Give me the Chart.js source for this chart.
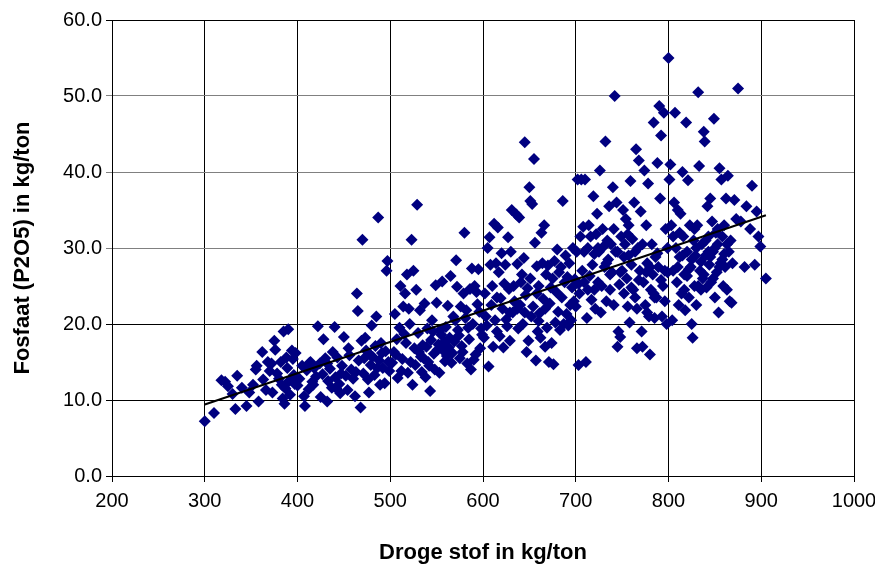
<!DOCTYPE html>
<html>
<head>
<meta charset="utf-8">
<script src="https://cdn.jsdelivr.net/npm/chart.js@4.4.1/dist/chart.umd.min.js"></script>
<style>
  body { margin: 0; background: #fff; }
  #wrap { width: 875px; height: 569px; }
</style>
</head>
<body>
<div id="wrap"><canvas id="scatter-chart" width="875" height="569"></canvas></div>
<script>
// droge stof (kg/ton) per monster
const drogeStof = [
  300, 310, 318, 322, 325, 330, 333, 335, 340, 345, 348, 352, 355, 356, 358, 362, 363, 366, 368, 370,
  372, 373, 375, 376, 378, 380, 382, 384, 385, 386, 388, 389, 390, 392, 394, 396, 398, 400, 383, 387,
  391, 395, 397,
  402, 405, 407, 408, 410, 412, 414, 416, 418, 420, 422, 424, 425, 427, 428, 430, 432, 433, 435, 437,
  440, 441, 443, 445, 446, 448, 450, 452, 454, 456, 458, 460, 462, 464, 465, 466, 468, 469, 470, 471,
  473, 474, 476, 477, 479, 480, 481, 483, 485, 487, 488, 489, 490, 492, 494, 495, 496, 497, 498, 499,
  455, 442, 438, 432, 417, 413, 447, 463, 472, 486, 491, 484, 478,
  502, 504, 505, 507, 508, 510, 511, 513, 514, 516, 517, 518, 519, 520, 521, 523, 524, 525, 526, 527,
  528, 529, 530, 532, 533, 535, 537, 538, 540, 541, 543, 544, 545, 547, 549, 550, 552, 553, 555, 556,
  557, 559, 560, 562, 563, 565, 566, 568, 569, 571, 572, 573, 575, 576, 577, 579, 580, 581, 583, 585,
  586, 587, 588, 589, 591, 592, 593, 595, 596, 598, 599,
  506, 512, 515, 522, 531, 534, 536, 539, 542, 546, 548, 551, 554, 558, 561, 564, 567, 570, 574, 578,
  582, 584, 590, 594, 597,
  601, 602, 604, 605, 606, 607, 608, 609, 610, 611, 612, 613, 614, 615, 616, 617, 618, 620, 621, 622,
  624, 625, 627, 628, 629, 630, 631, 632, 633, 635, 636, 637, 638, 639, 640, 641, 643, 644, 645, 646,
  647, 648, 649, 650, 651, 652, 653, 654, 655, 656, 657, 658, 659, 660, 661, 662, 663, 664, 665, 666,
  667, 668, 669, 670, 671, 672, 674, 675, 676, 677, 678, 679, 680, 681, 682, 683, 684, 685, 686, 687,
  688, 689, 690, 691, 692, 693, 694, 695, 696, 697, 698, 699,
  603, 619, 623, 626, 634, 642, 660, 673, 667, 658, 651, 645, 637, 629, 615,
  700, 701, 702, 703, 704, 705, 706, 707, 708, 709, 710, 711, 712, 713, 714, 715, 716, 717, 718, 719,
  720, 721, 722, 723, 724, 725, 726, 727, 728, 729, 730, 731, 732, 733, 734, 735, 736, 737, 738, 739,
  740, 741, 742, 743, 744, 745, 746, 747, 748, 749, 750, 751, 752, 753, 754, 755, 756, 757, 758, 759,
  760, 761, 762, 763, 764, 765, 766, 767, 768, 769, 770, 771, 772, 773, 774, 775, 776, 777, 778, 779,
  780, 781, 782, 783, 784, 785, 786, 787, 788, 789, 790, 791, 792, 793, 794, 795, 796, 797, 798, 799,
  720, 724, 733, 737, 745, 748, 752, 756, 760, 764, 768, 772, 776, 780, 784, 788, 792, 796, 709, 713,
  703, 741, 757, 766, 777, 785, 799,
  800, 801, 802, 803, 804, 805, 806, 807, 808, 809, 810, 811, 812, 813, 814, 815, 816, 817, 818, 819,
  820, 821, 822, 823, 824, 825, 826, 827, 828, 829, 830, 831, 832, 833, 834, 835, 836, 837, 838, 839,
  840, 841, 842, 843, 844, 845, 846, 847, 848, 849, 850, 851, 852, 853, 854, 855, 856, 857, 858, 859,
  860, 861, 862, 863, 864, 865, 866, 867, 868, 869, 871, 873, 875, 878, 882, 884, 888, 890, 893, 895,
  897, 899, 905,
  805, 810, 815, 820, 825, 830, 835, 840, 845, 850, 855, 860, 812, 822, 828, 838, 843, 848, 853, 858,
  863, 832, 817
]

// fosfaat P2O5 (kg/ton), zelfde volgorde als drogeStof
const fosfaat = [
  7.2, 8.3, 12.6, 12.4, 11.8, 10.8, 8.8, 13.2, 11.6, 9.2, 11.0, 12.0, 14.0, 14.5, 9.8, 16.3, 12.7, 11.3, 15.0, 13.8,
  14.8, 11.0, 17.8, 16.6, 13.5, 12.8, 15.0, 10.2, 19.0, 9.5, 15.6, 14.2, 19.3, 10.7, 16.5, 13.3, 16.2, 11.9, 12.0, 11.5,
  12.5, 15.4, 12.1,
  12.8, 14.5, 10.5, 9.2, 13.9, 11.4, 15.0, 12.4, 14.2, 13.1, 19.7, 14.8, 10.4, 13.4, 18.0, 15.5, 9.8, 12.5, 14.1, 11.6,
  19.6, 13.0, 15.6, 12.1, 10.9, 14.5, 18.3, 13.2, 11.3, 15.9, 14.0, 12.8, 10.5, 24.0, 21.7, 15.2, 9.0, 17.8, 31.1, 13.5,
  18.2, 16.5, 12.7, 11.0, 14.6, 19.8, 15.7, 13.3, 21.0, 34.0, 15.2, 12.0, 17.5, 14.2, 12.2, 16.4, 27.0, 28.3, 15.0, 13.8,
  16.8, 11.5, 16.3, 14.8, 12.0, 14.9, 13.5, 13.7, 15.5, 14.2, 16.2, 17.1, 16.0,
  14.9, 16.3, 21.3, 18.0, 12.9, 19.5, 25.0, 15.4, 22.3, 24.0, 17.5, 26.5, 13.6, 22.0, 20.0, 31.1, 12.0, 27.0, 16.8, 14.6,
  24.5, 35.7, 18.8, 21.8, 15.7, 17.2, 22.7, 13.0, 19.4, 15.0, 11.2, 17.9, 20.5, 16.1, 25.1, 22.8, 17.3, 13.6, 18.6, 25.6,
  16.5, 15.1, 19.6, 22.4, 16.9, 26.3, 14.9, 21.0, 17.7, 28.4, 24.9, 19.2, 15.5, 22.3, 17.1, 24.0, 32.0, 20.8, 14.8, 18.0,
  24.6, 14.0, 27.3, 20.0, 25.0, 16.0, 24.2, 27.2, 21.6, 19.4, 18.6,
  16.0, 13.8, 18.7, 15.0, 16.3, 13.7, 15.5, 17.0, 14.5, 19.0, 14.0, 16.6, 19.2, 17.6, 15.8, 18.2, 16.2, 20.5, 18.5, 16.3,
  21.8, 19.5, 15.3, 22.6, 16.8,
  18.2, 24.0, 19.8, 30.0, 14.4, 31.4, 27.8, 22.5, 25.0, 17.0, 33.2, 20.5, 28.0, 19.0, 32.7, 26.8, 18.4, 29.3, 22.0, 16.9,
  27.8, 20.6, 31.4, 24.6, 17.8, 29.5, 35.0, 21.5, 25.0, 22.8, 34.4, 27.9, 19.4, 34.0, 22.5, 25.5, 20.0, 28.7, 43.9, 23.8,
  16.3, 24.7, 17.8, 38.0, 36.2, 21.0, 35.8, 22.3, 41.7, 30.7, 15.2, 27.6, 19.0, 25.0, 21.4, 18.2, 32.0, 28.0, 23.3, 33.0,
  17.0, 26.5, 19.5, 27.7, 15.0, 22.7, 17.5, 26.0, 14.7, 28.3, 20.2, 24.2, 29.8, 21.6, 26.8, 19.2, 27.5, 23.5, 36.2, 20.0,
  25.5, 29.0, 21.3, 26.2, 19.8, 28.0, 22.5, 20.5, 24.8, 30.0, 23.0, 25.9,
  21.0, 23.4, 25.3, 19.7, 23.0, 26.5, 20.4, 24.8, 22.0, 24.0, 26.0, 21.5, 22.0, 21.5, 23.5,
  22.3, 29.5, 39.0, 14.6, 24.0, 31.5, 39.0, 27.0, 32.8, 25.5, 39.0, 15.0, 20.8, 30.0, 33.0, 26.3, 31.5, 23.2, 27.8, 36.8,
  29.2, 22.0, 31.8, 34.5, 25.5, 29.5, 40.2, 21.5, 25.0, 32.5, 30.2, 27.5, 44.0, 23.0, 31.0, 28.5, 35.5, 24.5, 30.5, 26.8,
  38.0, 22.5, 50.0, 29.5, 36.0, 17.0, 19.0, 25.2, 18.3, 31.5, 27.0, 35.0, 24.0, 30.5, 33.8, 26.0, 22.3, 29.0, 20.2, 38.8,
  27.8, 31.2, 24.5, 36.0, 23.5, 43.0, 16.8, 30.0, 41.5, 27.0, 34.8, 19.0, 17.0, 25.5, 40.2, 22.5, 33.0, 28.0, 38.5, 21.0,
  16.0, 24.5, 30.5, 26.5, 46.5, 20.8, 28.8, 23.5, 41.2, 27.5, 48.7, 36.5, 44.8, 21.0, 25.0, 47.8, 23.0, 32.5, 20.0, 26.8,
  24.5, 30.0, 28.0, 26.5, 29.5, 26.8, 28.8, 31.8, 24.8, 29.5, 25.8, 30.5, 26.8, 27.5, 24.0, 29.3, 25.8, 27.0, 29.5, 24.5,
  25.3, 32.5, 33.0, 22.0, 21.5, 23.5, 30.0,
  55.0, 39.0, 41.0, 33.0, 20.5, 27.0, 36.0, 47.8, 30.0, 25.5, 35.0, 22.5, 28.8, 34.5, 24.0, 40.0, 31.5, 26.5, 21.8, 46.5,
  29.5, 38.9, 23.5, 33.0, 27.5, 20.0, 18.2, 31.0, 25.0, 29.0, 22.5, 33.0, 50.5, 40.8, 27.0, 24.5, 30.5, 26.0, 45.3, 44.0,
  29.0, 24.8, 35.5, 31.5, 27.8, 36.5, 25.5, 33.5, 29.5, 47.0, 23.5, 32.0, 26.8, 30.5, 21.5, 40.5, 28.0, 39.0, 31.5, 25.0,
  33.0, 27.5, 36.5, 24.5, 39.5, 29.5, 23.0, 31.0, 22.8, 28.0, 36.3, 33.8, 51.0, 33.5, 27.5, 35.5, 32.5, 38.2, 27.8, 34.8,
  31.5, 30.2, 26.0,
  31.5, 27.5, 29.0, 26.3, 28.5, 30.0, 28.2, 31.0, 28.8, 30.0, 27.5, 29.2, 32.0, 27.2, 32.5, 26.5, 29.5, 26.0, 32.5, 28.5,
  30.5, 25.0, 24.5
]

// lineaire trendlijn, begin- en eindpunt
const trendX = [300, 905]
const trendY = [9.4, 34.3]

const xTicks = [200, 300, 400, 500, 600, 700, 800, 900, 1000]
const yTicks = [0, 10, 20, 30, 40, 50, 60]

const points = drogeStof.map((x, i) => ({ x: x, y: fosfaat[i] }))
const trend = trendX.map((x, i) => ({ x: x, y: trendY[i] }))

const tickFont = { family: "'Liberation Sans', Arial, sans-serif", size: 20 }
const titleFont = { family: "'Liberation Sans', Arial, sans-serif", size: 22, weight: 'bold' }

const scatterConfig = {
  type: 'scatter',
  data: {
    datasets: [{
      label: 'Trend',
      type: 'line',
      data: trend,
      borderColor: '#000000',
      borderWidth: 2,
      pointRadius: 0,
      fill: false,
      order: 0
    },
    {
      label: 'Fosfaat',
      data: points,
      pointStyle: 'rectRot',
      pointRadius: 6,
      pointBackgroundColor: '#000080',
      pointBorderColor: '#000080',
      pointBorderWidth: 0,
      order: 1
    }]
  },
  options: {
    responsive: false,
    animation: false,
    layout: {
      padding: { top: 20, right: 21, left: 0, bottom: 0 }
    },
    plugins: {
      legend: { display: false },
      tooltip: { enabled: false }
    },
    scales: {
      x: {
        type: 'linear',
        min: 200,
        max: 1000,
        afterBuildTicks: (scale) => { scale.ticks = xTicks.map(v => ({ value: v })) },
        afterFit: (scale) => {
          scale.height = 93
          scale.paddingLeft = 0
          scale.paddingRight = 0
        },
        border: { color: '#000000', width: 1 },
        grid: { color: '#000000', lineWidth: 1, tickLength: 6 },
        ticks: {
          color: '#000000',
          font: tickFont,
          padding: 7,
          maxRotation: 0,
          callback: function (value) {
            return String(value)
          }
        },
        title: {
          display: true,
          text: 'Droge stof in kg/ton',
          color: '#000000',
          font: titleFont,
          padding: { top: 0, bottom: 3 }
        }
      },
      y: {
        type: 'linear',
        min: 0,
        max: 60,
        afterBuildTicks: (scale) => { scale.ticks = yTicks.map(v => ({ value: v })) },
        afterFit: (scale) => { scale.width = 112 },
        border: { color: '#000000', width: 1 },
        grid: {
          color: (ctx) => ctx.tick && ctx.tick.value >= 30 && ctx.tick.value <= 50 ? '#808080' : '#000000',
          lineWidth: 1,
          tickLength: 6
        },
        ticks: {
          color: '#000000',
          font: tickFont,
          padding: 4,
          callback: function (value) {
            return value.toFixed(1)
          }
        },
        title: {
          display: true,
          text: 'Fosfaat (P2O5) in kg/ton',
          color: '#000000',
          font: titleFont,
          padding: { top: 10, bottom: 0 }
        }
      }
    }
  }
}

const chartElement = document.getElementById('scatter-chart').getContext('2d')
const scatterChart = new Chart(chartElement, scatterConfig)
</script>
</body>
</html>
